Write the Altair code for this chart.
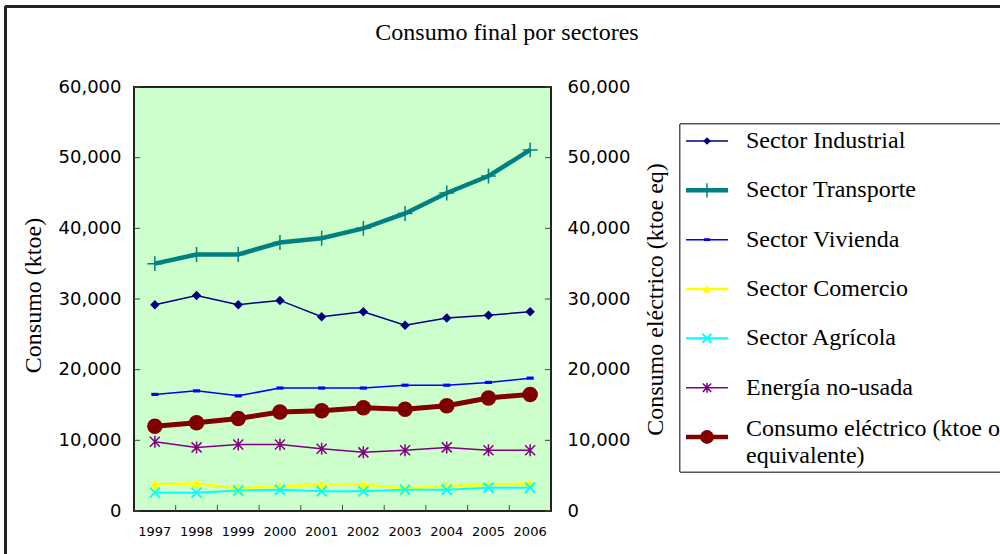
import altair as alt
import pandas as pd

# --- data -------------------------------------------------------------
years = [1997, 1998, 1999, 2000, 2001, 2002, 2003, 2004, 2005, 2006]

series_names = [
    "Sector Industrial",
    "Sector Transporte",
    "Sector Vivienda",
    "Sector Comercio",
    "Sector Agrícola",
    "Energía no-usada",
    "Consumo eléctrico (ktoe o\nequivalente)",
]

industrial = [29200, 30500, 29200, 29800, 27500, 28200, 26300, 27300, 27700, 28200]
transporte = [35000, 36300, 36300, 38000, 38600, 40000, 42100, 45000, 47400, 51100]
vivienda = [16500, 17000, 16300, 17400, 17400, 17400, 17800, 17800, 18200, 18800]
comercio = [3800, 3900, 3200, 3500, 3700, 3700, 3200, 3500, 3700, 3900]
agricola = [2600, 2600, 2900, 3000, 2800, 2800, 3000, 3000, 3300, 3300]
no_usada = [9800, 9000, 9400, 9400, 8800, 8300, 8600, 9000, 8600, 8600]
electrico = [12000, 12500, 13100, 14000, 14200, 14600, 14400, 14900, 16000, 16500]

series_values = [industrial, transporte, vivienda, comercio, agricola, no_usada, electrico]

y_ticks = [0, 10000, 20000, 30000, 40000, 50000, 60000]

chart_title = "Consumo final por sectores"

rows = []
for name, vals in zip(series_names, series_values):
    for yr, v in zip(years, vals):
        rows.append({"series": name, "year": yr, "value": v})
data = pd.DataFrame(rows)

legend_df = pd.DataFrame({"series": series_names, "slot": list(range(len(series_names)))})
ticks_df = pd.DataFrame({"tick": y_ticks})
band_df = pd.DataFrame({"year": years[1:]})
title_df = pd.DataFrame({"label": [chart_title]})

# --- styles -----------------------------------------------------------
PLUS = "M-1,0L1,0M0,-1L0,1"
CROSS = "M-1,-1L1,1M-1,1L1,-1"
STAR = "M-1,-1L1,1M-1,1L1,-1M0,-1.2L0,1.2"
DASH = "M-1,-0.45L1,-0.45L1,0.45L-1,0.45Z"

# colour, line width, marker shape, marker size, filled, marker stroke, legend marker size
styles = [
    ("#000080", 1.5, "diamond", 90, True, 1, 60),
    ("#008080", 4.5, PLUS, 220, False, 1.5, 200),
    ("#0000FF", 1.5, DASH, 50, True, 1, 40),
    ("#FFFF00", 2.5, "triangle-up", 110, True, 1, 70),
    ("#00FFFF", 2, CROSS, 100, False, 2, 80),
    ("#800080", 1.5, STAR, 100, False, 1.5, 70),
    ("#800000", 5, "circle", 240, True, 1, 190),
]

W, H = 417, 424
LEFT, TOP = 134, 87
Y_DOMAIN = [0, 60000]
SERIF = "Liberation Serif"
SANS = "DejaVu Sans"

y_scale = alt.Scale(domain=Y_DOMAIN, nice=False, zero=True)
x_scale = alt.Scale(type="band", paddingInner=0, paddingOuter=0)

x_axis = alt.Axis(
    title=None, labelAngle=0, ticks=False, domain=False, grid=False,
    labelFont=SANS, labelFontSize=13, labelColor="black", labelPadding=14,
)

left_axis = alt.Axis(
    values=y_ticks, format=",.0f", ticks=False, domain=False, grid=False,
    labelFont=SANS, labelFontSize=18, labelColor="black", labelPadding=13,
    title="Consumo (ktoe)", titleFont=SERIF, titleFontSize=24,
    titleFontWeight="normal", titleColor="black",
    titleX=33 - LEFT, titleY=295 - TOP, titleAngle=270,
    titleBaseline="middle", titleAlign="center",
)

right_axis = alt.Axis(
    orient="right", values=y_ticks, format=",.0f", ticks=False, domain=False,
    grid=False, labelFont=SANS, labelFontSize=18, labelColor="black",
    labelPadding=16,
    title="Consumo eléctrico (ktoe eq)", titleFont=SERIF, titleFontSize=24,
    titleFontWeight="normal", titleColor="black",
    titleX=655 - (LEFT + W), titleY=299 - TOP, titleAngle=270,
    titleBaseline="middle", titleAlign="center",
)

# --- series lines and markers ----------------------------------------
series_layers = []
x_enc = alt.X("year:O", bandPosition=0.5, scale=x_scale, axis=x_axis)
y_enc = alt.Y("value:Q", scale=y_scale, axis=left_axis)
for name, (color, lw, shape, size, filled, sw, _) in zip(series_names, styles):
    base = alt.Chart(data).transform_filter(alt.datum.series == name)
    series_layers.append(
        base.mark_line(color=color, strokeWidth=lw).encode(x=x_enc, y=y_enc)
    )
    series_layers.append(
        base.mark_point(shape=shape, size=size, filled=filled, color=color,
                        strokeWidth=sw, opacity=1).encode(x=x_enc, y=y_enc)
    )

# inward tick marks on the bottom and left edges
bottom_ticks = alt.Chart(band_df).mark_rule(color="#444", strokeWidth=1).encode(
    x=alt.X("year:O", bandPosition=0, scale=x_scale, axis=x_axis),
    y=alt.value(H), y2=alt.value(H - 6),
)
left_ticks = alt.Chart(ticks_df).mark_rule(color="#444", strokeWidth=1).encode(
    y=alt.Y("tick:Q", scale=y_scale, axis=left_axis),
    x=alt.value(0), x2=alt.value(6),
)

plot_layer = alt.layer(*series_layers, bottom_ticks, left_ticks)

# secondary axis on the right with its inward ticks
right_layer = alt.Chart(ticks_df).mark_rule(color="#444", strokeWidth=1).encode(
    y=alt.Y("tick:Q", scale=y_scale, axis=right_axis),
    x=alt.value(W - 6), x2=alt.value(W),
)

# --- legend -----------------------------------------------------------
slot_scale = alt.Scale(domain=[0, 6], range=[141 - TOP, 437 - TOP], nice=False, zero=False)
slot_y = alt.Y("slot:Q", scale=slot_scale, axis=None)

legend_box = alt.Chart(legend_df).mark_rect(
    fill="white", stroke="#555", strokeWidth=1
).encode(
    x=alt.value(680 - LEFT), x2=alt.value(1010 - LEFT),
    y=alt.value(124 - TOP), y2=alt.value(472 - TOP),
)

legend_layers = [legend_box]
for name, (color, lw, shape, size, filled, sw, lsize) in zip(series_names, styles):
    lb = alt.Chart(legend_df).transform_filter(alt.datum.series == name)
    legend_layers.append(
        lb.mark_rule(color=color, strokeWidth=min(lw, 4.5)).encode(
            x=alt.value(686 - LEFT), x2=alt.value(728 - LEFT), y=slot_y)
    )
    legend_layers.append(
        lb.mark_point(shape=shape, size=lsize, filled=filled, color=color,
                      strokeWidth=sw, opacity=1).encode(
            x=alt.value(707 - LEFT), y=slot_y)
    )
    n_lines = name.count("\n") + 1
    legend_layers.append(
        lb.mark_text(
            align="left", baseline="middle", font=SERIF, fontSize=24,
            color="black", lineBreak="\n", lineHeight=27,
            dy=-8 * (n_lines - 1),
        ).encode(x=alt.value(746 - LEFT), y=slot_y, text="series:N")
    )
legend_layer = alt.layer(*legend_layers)

# outer frame lines (left and top) and the heading
frame_layer = alt.layer(
    alt.Chart(ticks_df).mark_rule(color="#222", strokeWidth=2).encode(
        x=alt.value(5.5 - LEFT), y=alt.value(6.5 - TOP), y2=alt.value(600)),
    alt.Chart(ticks_df).mark_rule(color="#222", strokeWidth=2).encode(
        x=alt.value(5.5 - LEFT), x2=alt.value(1010), y=alt.value(6.5 - TOP)),
    alt.Chart(title_df).mark_text(
        font=SERIF, fontSize=24, color="black", align="center", baseline="middle"
    ).encode(x=alt.value(507 - LEFT), y=alt.value(33 - TOP), text="label:N"),
)

chart = alt.layer(plot_layer, right_layer, legend_layer, frame_layer).resolve_scale(
    y="independent"
).properties(
    width=W,
    height=H,
    autosize=alt.AutoSizeParams(type="none"),
    padding={"left": LEFT, "top": TOP, "right": 1000 - LEFT - W, "bottom": 554 - TOP - H},
    background="white",
).configure_view(fill="#CCFFCC", stroke="#222", strokeWidth=2)

chart.save("out.html", embed_options={"renderer": "svg", "actions": False})
